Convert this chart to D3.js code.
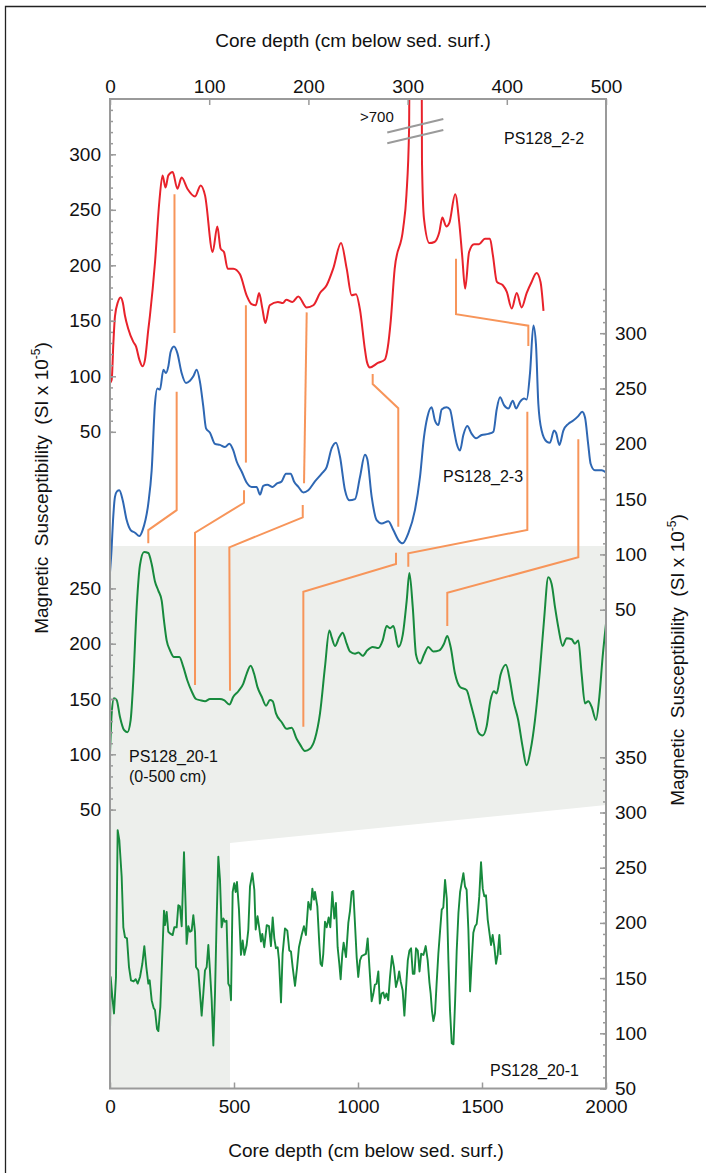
<!DOCTYPE html>
<html><head><meta charset="utf-8">
<script src="https://cdn.jsdelivr.net/npm/d3@7"></script>
<style>
body{margin:0;background:#fff}
svg text{font-family:"Liberation Sans",Arial,Helvetica,sans-serif;fill:#111}
</style>
</head><body>
<svg id="chart" width="706" height="1173"></svg>
<script>
// ---------- data ----------
const topDepthTicks = [0,100,200,300,400,500];
const bottomDepthTicks = [0,500,1000,1500,2000];
const leftUpperLabels = [50,100,150,200,250,300];
const leftLowerLabels = [50,100,150,200,250];
const rightUpperLabels = [50,100,150,200,250,300];
const rightLowerLabels = [50,100,150,200,250,300,350];

// PS128_2-2 (red) : [depth cm, MS]
const ps128_2_2 = [[0,94],[1.7,97],[3.4,130],[5,154],[8,167],[10.8,171],[13,166],[15,155],[18.3,143],[23.5,131],[26.2,127],[29.6,115],[32.9,109],[35.3,115],[38.6,142],[40.3,155],[45.4,203],[49.7,257],[53,281],[56,270],[58.8,281],[63.2,284],[67.9,269],[72.2,279],[78,269],[85.7,262],[91.4,272],[95.8,263],[103.5,212],[108.2,235],[111.5,215],[114.9,212],[118.6,197],[124.3,197],[131,192],[137.7,173],[142.7,165],[147,164],[150.3,175],[153.6,161],[156.6,148],[161,164],[169.3,167],[174.3,166],[177.7,169],[184,167],[189.8,172],[198.3,162],[205,164],[211.7,175],[218.4,182],[225,197],[232.9,220],[238.6,197],[243.6,173],[248,174],[252,160],[257,124],[259,113],[262,108],[270,112],[277,115],[280,126],[283,150],[287,197],[295.5,233],[298.8,263],[301.5,323],[303,720],[313,720],[314.5,293],[316.5,242],[322,220],[327,221],[332,230],[335,243],[339,235],[342,238],[348,264],[352,239],[355,209],[358,179],[362,212],[367,219],[372,219],[378,224],[383,224],[386,209],[390,185],[396,182],[400,176],[405,161],[410,175],[415,162],[420,175],[425,185],[430,193],[434,185],[437,159]];

// PS128_2-3 (blue)
const ps128_2_3 = [[0,84],[1.6,105],[3,130],[5,152],[7,157],[9.4,158],[12.8,149],[16.8,131],[20.8,122],[25.2,119.6],[29.6,116.6],[32.9,122],[38.6,146],[42,176],[45.4,237],[47.7,250],[50.4,249],[53.8,267],[56.4,264],[58.8,270],[61.1,283],[64.5,288],[67.9,282],[72.2,264],[76.6,255],[80.6,257],[84,261],[87.4,267],[90.7,256],[94,234],[96.8,214],[100.8,210],[105.8,200],[110.8,199],[115.9,197],[120.3,200],[124.3,194],[127.7,184],[132.7,175],[137.7,165],[142.8,161],[147.8,161],[151.2,154],[154.5,162],[158.6,163],[164,161],[168,164],[173,166],[177.4,173],[182.1,173],[185.5,166],[189.9,161],[194.9,156],[199.9,158],[206.6,166],[213.4,173],[218.4,179],[223.5,196],[227.8,201],[231.9,188],[236.9,158],[241.3,149],[247,150],[252,170],[257,190],[259.4,186],[263.8,152],[268.8,131],[273.9,128],[280.6,130],[285.6,122],[290.7,113],[295,110],[300.7,119],[307.4,140],[312.5,170],[316.5,206],[319.9,224],[324.2,233],[327.6,221],[331,217],[334.3,231],[339.4,233],[342.7,231],[346.8,212],[349.5,200],[352.8,194],[356.2,208],[360.2,216],[364.6,209],[369,205],[374.7,208],[381.4,209],[386.5,211],[389.8,231],[393.2,242],[397.2,235],[401.6,232],[406,239],[409.3,232],[413.3,238],[417.4,241],[420,240],[423.4,264],[426.8,307],[429.4,290],[431.8,236],[435.1,212],[440.2,202],[443.5,201],[447.6,212],[449.6,210],[453,199],[457,212],[462,218],[467,221],[472,225],[476,229],[478.8,224],[482,200],[484.5,182],[488.8,176],[495.6,176],[500,174]];

// PS128_20-1 (0-500 cm, green, upper panel)
const ps128_20_1_top = [[0,101],[1.7,137],[4,150.6],[6.7,149],[10,134],[14.1,122],[17.5,120],[20.8,131],[23.5,167],[26.9,233],[30.2,271],[34.3,283],[38.6,282],[42,272],[45.4,256],[48.7,248],[52.1,239],[54.4,221],[57.1,203],[60.5,194],[64.5,188],[69.9,188],[73.9,179],[77.9,167],[82.3,157],[86.7,150],[90.7,149],[95.8,148],[100.8,150],[105.8,150],[110.8,150],[114.9,149],[120.3,145],[124.3,152],[129.4,157],[134.4,164],[137.8,173],[141.8,180],[145.2,173],[148.6,161],[153,152],[157.3,144],[161.3,149],[164,148],[167.3,137],[173.1,129],[178,123],[183.1,124],[188.1,114],[191.5,109],[196.5,103],[201.6,105],[206.6,114],[211.7,137],[216.7,179],[221.1,212],[223.4,206],[226.8,198],[231.2,206],[234.5,210],[238.6,200],[241.9,193],[247,191],[250.4,192],[254.7,189],[259.4,194],[264.8,197],[270.5,196],[274.9,203],[278.9,216],[282.3,214],[285.7,216],[290.7,197],[295.1,208],[299.1,239],[301.8,264],[305.2,233],[308.5,190],[312.5,182],[316.5,190],[320.9,197],[325.9,193],[332,194],[336.7,200],[340,207],[343.4,197],[347.8,173],[352.8,161],[359.5,158],[363.5,146],[367.9,131],[371.2,120],[375.6,117],[379.6,125],[383.6,149],[387,157],[389.7,155],[393.7,172],[399.1,181],[403.1,167],[406.5,149],[411.5,131],[415.9,107],[419.9,90],[424,104],[428.4,131],[433.4,176],[437.5,221],[441.8,260],[445.2,254],[448.6,233],[451.9,215],[456.3,198],[460.3,205],[465.4,204],[468.7,200],[472.1,203],[475.4,173],[478.8,146],[482.2,148],[485.5,143],[489.9,131],[493.3,152],[496.6,188],[500,218]];

// PS128_20-1 (full core, green, lower panel)
const ps128_20_1_full = [[0,100],[2.7,151],[9.4,133],[16.1,118],[24.2,151],[30.9,284],[37.6,275],[47,242],[53.8,196],[60.5,187],[68.5,186],[76.6,160],[84.7,148],[95.4,147],[103.5,149],[111.6,145],[121,151],[130.4,163],[138.4,179],[146.5,160],[154.6,145],[160,148],[168,130],[176,123],[181.5,121],[189.5,104],[195,102],[203,124],[211,172],[217.7,211],[221.8,198],[228.5,210],[235,192],[244.6,190],[252.7,189],[259.4,196],[268.8,196],[275.5,216],[282,215],[289,197],[298.4,264],[305,215],[309,181],[315.9,197],[322.6,192],[329.3,193],[336,207],[342.7,192],[346.8,160],[356,157],[363,136],[369.6,116],[376.3,136],[383,157],[389.8,160],[396.5,180],[403,157],[410,130],[416.7,89],[423.4,136],[430,203],[436.8,260],[443.5,239],[450,196],[456.9,204],[463.6,201],[470,202],[477,145],[483.8,142],[487.9,130],[494.6,228],[501,236],[506.7,228],[512,237],[520,212],[528,171],[535,184],[541.7,171],[551,180],[557.8,194],[564.5,233],[574,245],[582,230],[587.4,194],[595,206],[600.8,197],[608.9,183],[614,190],[622,178],[632,198],[641,197],[649,179],[656,205],[662.6,186],[669,177],[676,178],[681.5,166],[689.5,128],[696,172],[705.6,195],[715,193],[723,175],[729.8,174],[736.5,160],[746,143],[754,159],[762,178],[772.8,189],[782,197],[790,189],[799.7,219],[809,212],[816,231],[822.6,221],[826.6,228],[836,215],[844,181],[849,163],[855,161],[860,172],[866.9,201],[873.7,196],[881.7,205],[888.4,196],[896.5,228],[904.5,204],[911,218],[917.9,178],[924.6,163],[930,149],[936.8,172],[942,182],[951.6,169],[961,200],[967.7,211],[974.5,228],[981,229],[989,194],[994.6,169],[1001,151],[1008,166],[1015,170],[1024,171],[1032,172],[1039,186],[1046,160],[1055,129],[1062,136],[1068,144],[1075,145],[1082,156],[1088,127],[1095,136],[1102,137],[1108,132],[1115,136],[1122,130],[1129,151],[1137,170],[1145,160],[1153,142],[1160,148],[1166,156],[1172,147],[1180,139],[1187,116],[1194,142],[1200.8,166],[1207.5,175],[1214,177],[1221,154],[1227.6,154],[1234,177],[1241,175],[1248,156],[1254.7,172],[1264,171],[1273,179],[1281,166],[1288,146],[1293,136],[1298.4,120],[1304,111],[1310.5,118],[1317,145],[1324,172],[1331,193],[1337.6,212],[1344,214],[1351,239],[1358,222],[1364.6,166],[1371,121],[1378,91],[1385,90],[1391.7,130],[1398,175],[1405,209],[1411.7,228],[1418,236],[1425,245],[1431.5,233],[1438,230],[1445,194],[1452,138],[1458.6,166],[1465,191],[1472,197],[1478.5,199],[1485,213],[1489,224],[1496,255],[1503,231],[1509.4,224],[1516,225],[1523,203],[1530,191],[1536.3,180],[1543,189],[1550,178],[1556.5,163],[1563,171],[1570,189],[1575,171]];

// correlation tie lines: [depth (top scale), value, which y-scale]
const tieLines = [
  [[65,264,'a'],[65,139,'a']],
  [[67.2,247,'b'],[67.2,140,'b'],[38.6,122,'b'],[38.6,110,'b']],
  [[137,164,'a'],[137,183,'b']],
  [[135.1,158,'b'],[135.1,146.7,'b'],[85.7,119.6,'b'],[85.7,162.7,'c']],
  [[198.3,157.6,'a'],[195.6,164.3,'b']],
  [[194.3,144.7,'b'],[194.3,133.5,'b'],[120.3,106.4,'b'],[121,157.5,'c']],
  [[264.8,102.1,'a'],[264.8,93.1,'a'],[290.6,232.1,'b'],[290.6,125,'b']],
  [[288.3,101.5,'b'],[288.3,91.3,'b'],[194.9,247,'c'],[194.9,125,'c']],
  [[420.7,229,'b'],[420.7,122.1,'b'],[300.7,101,'b'],[300.7,269.6,'c']],
  [[348.8,205.8,'a'],[348.8,155.9,'a'],[421.7,145.6,'a'],[421.7,288.4,'b']],
  [[472.1,204.1,'b'],[472.1,97.4,'b'],[340,246,'c'],[340,216,'c']]
];
// zoom-connector shading: [x-scale, depth, y-scale, value]
const shadePts = [['t',0,'c',288.3],['t',500,'c',288.3],['t',500,'d',306.8],['b',484,'d',272.4],['b',484,'d',50],['b',0,'d',50]];
// axis break marks on PS128_2-2 (depth, value pairs)
const breakMarks = [[[279.5,319.7],[336,331.8]],[[279.5,309.9],[336,321.9]]];

// ---------- scales ----------
const L=110, R=606, T=99, B=1088.5;
const xTop = d3.scaleLinear([0,500],[L,R]);
const xBot = d3.scaleLinear([0,2000],[L,R]);
const yA = d3.scaleLinear([0,350],[487.3,98.8]);
const yB = d3.scaleLinear([0,300],[665,333.2]);
const yC = d3.scaleLinear([0,250],[864.9,588.4]);
const yD = d3.scaleLinear([50,350],[B,757.3]);
const ys = {a:yA,b:yB,c:yC,d:yD};
const xs = {t:xTop,b:xBot};

const svg = d3.select('#chart');
svg.append('defs').append('clipPath').attr('id','plotClip')
  .append('rect').attr('x',L).attr('y',T).attr('width',R-L).attr('height',B-T);

// outer border
svg.append('path').attr('d','M5.5,1173 L5.5,6.5 L706,6.5').attr('fill','none').attr('stroke','#222').attr('stroke-width',1.3);

// shading
svg.append('path')
  .attr('d', d3.line()(shadePts.map(p=>[xs[p[0]](p[1]), ys[p[2]](p[3])])) + 'Z')
  .attr('fill','#edefec').attr('stroke','none');

// tie lines
const tieGen = d3.line().x(p=>xTop(p[0])).y(p=>ys[p[2]](p[1]));
svg.append('g').selectAll('path').data(tieLines).join('path')
  .attr('d', tieGen).attr('fill','none').attr('stroke','#f7955a').attr('stroke-width',2);

// curves
const gC = svg.append('g').attr('clip-path','url(#plotClip)');
function drawCurve(data, xs_, ys_, color, curve, w){
  gC.append('path').datum(data)
    .attr('d', d3.line().x(d=>xs_(d[0])).y(d=>ys_(d[1])).curve(curve))
    .attr('fill','none').attr('stroke',color).attr('stroke-width',w).attr('stroke-linejoin','round');
}
drawCurve(ps128_2_2, xTop, yA, '#e8222b', d3.curveMonotoneX, 2);
drawCurve(ps128_2_3, xTop, yB, '#2e67b3', d3.curveMonotoneX, 2);
drawCurve(ps128_20_1_top, xTop, yC, '#178a3d', d3.curveMonotoneX, 2);
drawCurve(ps128_20_1_full, xBot, yD, '#178a3d', d3.curveLinear, 1.9);

// break marks
svg.append('g').selectAll('line').data(breakMarks).join('line')
  .attr('x1',d=>xTop(d[0][0])).attr('y1',d=>yA(d[0][1]))
  .attr('x2',d=>xTop(d[1][0])).attr('y2',d=>yA(d[1][1]))
  .attr('stroke','#9a9a9a').attr('stroke-width',2);

// ---------- axes ----------
const axisColor = '#9a9a9a';
function styleAxis(g){
  g.select('.domain').remove();
  g.selectAll('.tick line').attr('stroke',axisColor).attr('stroke-width',1.5);
  g.selectAll('.tick text').attr('font-size',19).attr('fill','#111');
}
function vAxis(axisFn, scale, x, lo, hi, labels){
  svg.append('g').attr('transform',`translate(${x},0)`)
    .call(axisFn(scale).tickValues(d3.range(lo,hi+1,10)).tickSize(-3).tickFormat(''))
    .call(styleAxis);
  svg.append('g').attr('transform',`translate(${x},0)`)
    .call(axisFn(scale).tickValues(labels).tickSize(-6).tickPadding(9).tickFormat(d3.format('d')))
    .call(styleAxis);
}
vAxis(d3.axisLeft, yA, L, 50, 340, leftUpperLabels);
vAxis(d3.axisLeft, yC, L, 50, 250, leftLowerLabels);
vAxis(d3.axisRight, yB, R, 50, 340, rightUpperLabels);
vAxis(d3.axisRight, yD, R, 50, 350, rightLowerLabels);

svg.append('g').attr('transform',`translate(0,${T})`)
  .call(d3.axisTop(xTop).tickValues(topDepthTicks).tickSize(-6).tickPadding(6).tickFormat(d3.format('d')))
  .call(styleAxis);
svg.append('g').attr('transform',`translate(0,${B})`)
  .call(d3.axisBottom(xBot).tickValues(bottomDepthTicks).tickSize(-6).tickPadding(11).tickFormat(d3.format('d')))
  .call(styleAxis);

// frame
svg.append('rect').attr('x',L).attr('y',T).attr('width',R-L).attr('height',B-T)
  .attr('fill','none').attr('stroke',axisColor).attr('stroke-width',2);

// ---------- text ----------
svg.append('text').attr('x',353).attr('y',46.5).attr('text-anchor','middle').attr('font-size',19)
  .text('Core depth (cm below sed. surf.)');
svg.append('text').attr('x',366).attr('y',1156.5).attr('text-anchor','middle').attr('font-size',19)
  .text('Core depth (cm below sed. surf.)');

function yTitle(x, y){
  const t = svg.append('text').attr('transform',`translate(${x},${y}) rotate(-90)`)
    .attr('text-anchor','middle').attr('font-size',19).style('white-space','pre');
  t.append('tspan').text('Magnetic  Susceptibility  (SI x 10');
  t.append('tspan').attr('dy',-8).attr('font-size',12).text('-5');
  t.append('tspan').attr('dy',8).text(')');
}
yTitle(48, 488);
yTitle(684, 660);

const lab = (x,y,s,size)=>svg.append('text').attr('x',x).attr('y',y).attr('font-size',size).text(s);
lab(504,144.3,'PS128_2-2',16);
lab(443,481.7,'PS128_2-3',16);
lab(129,761.7,'PS128_20-1',16);
lab(129,782,'(0-500 cm)',16);
lab(490,1076,'PS128_20-1',16);
lab(360,121.7,'>700',15);
</script>
</body></html>
